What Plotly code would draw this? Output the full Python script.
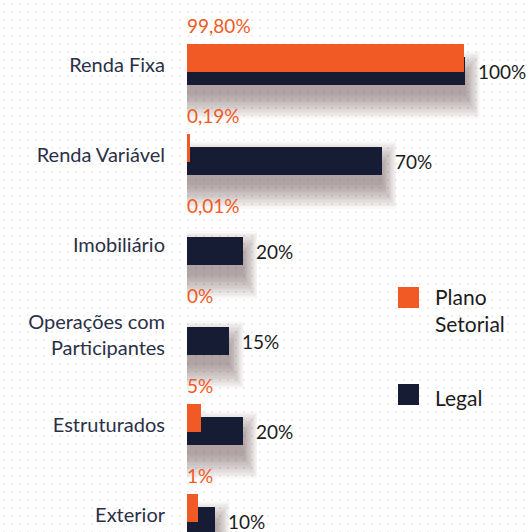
import base64
import plotly.graph_objects as go

# ---------------- data ----------------
categories = ["Renda Fixa", "Renda Variável", "Imobiliário",
              "Operações com<br>Participantes", "Estruturados", "Exterior"]
plano_values = [99.8, 1.0, 0.01, 0, 5, 4]          # bar lengths
plano_labels = ["99,80%", "0,19%", "0,01%", "0%", "5%", "1%"]
legal_values = [100, 70, 20, 15, 20, 10]
legal_labels = ["100%", "70%", "20%", "15%", "20%", "10%"]
series_names = ["Plano<br>Setorial", "Legal"]

# ---------------- style ----------------
ORANGE = "#F15A24"
NAVY = "#171C35"
LABEL_COLOR = "#2B3048"
TEXT_DARK = "#1C1C1C"
FONT = "Lato"

W, H = 531, 532
ML = 187
ROW_PX = 90.0
FIRST_ROW_PX = 64.5
PX_PER_PCT = 2.78
plot_w = W - ML
xmax = plot_w / PX_PER_PCT
n = len(categories)
idx = list(range(n))
y_top = -FIRST_ROW_PX / ROW_PX
y_bot = (H - FIRST_ROW_PX) / ROW_PX
bar_w = 28 / ROW_PX
shift = 6.5 / ROW_PX


def px_x(p):
    return (p - ML) / plot_w


def px_y(p):
    return 1 - p / H


fig = go.Figure()

# soft shadow under the navy bars (layered translucent bars)
for k in range(18):
    spread_px = 1 + 1.4 * k
    su = 0.6 * spread_px / PX_PER_PCT
    wv = max(bar_w - 10 / ROW_PX, 0.01) + 2 * spread_px / ROW_PX
    center = shift + 14 / ROW_PX
    fig.add_trace(go.Bar(
        y=idx, x=[v + su for v in legal_values], base=0,
        orientation="h", width=wv, offset=center - wv / 2,
        marker=dict(color="rgba(90,45,45,0.028)", line=dict(width=0)),
        hoverinfo="skip", showlegend=False))

fig.add_trace(go.Bar(
    y=idx, x=legal_values, orientation="h", name=series_names[1],
    width=bar_w, offset=shift - bar_w / 2,
    marker=dict(color=NAVY, line=dict(width=0)), showlegend=False))
fig.add_trace(go.Bar(
    y=idx, x=plano_values, orientation="h", name=series_names[0],
    width=bar_w, offset=-shift - bar_w / 2,
    marker=dict(color=ORANGE, line=dict(width=0)), showlegend=False))

annotations = []
for i in idx:
    annotations.append(dict(
        x=0, y=i, xref="x", yref="y", text=plano_labels[i], showarrow=False,
        xanchor="left", yanchor="middle", yshift=39, xshift=-2,
        font=dict(family=FONT, size=19, color=ORANGE)))
    annotations.append(dict(
        x=legal_values[i], y=i + shift, xref="x", yref="y", text=legal_labels[i],
        showarrow=False, xanchor="left", yanchor="middle", xshift=11,
        font=dict(family=FONT, size=19, color=TEXT_DARK)))

# manual legend
legend_colors = [ORANGE, NAVY]
legend_sq_top = [287, 384]
legend_text_mid = [310, 397]
shapes = []
for name, col, top, mid in zip(series_names, legend_colors, legend_sq_top, legend_text_mid):
    shapes.append(dict(type="rect", xref="paper", yref="paper",
                       x0=px_x(398), x1=px_x(419), y0=px_y(top), y1=px_y(top + 21),
                       fillcolor=col, line=dict(width=0)))
    annotations.append(dict(
        x=px_x(433), y=px_y(mid), xref="paper", yref="paper", text=name,
        showarrow=False, xanchor="left", yanchor="middle", align="left",
        font=dict(family=FONT, size=21, color=TEXT_DARK)))

# dotted background
svg = ('<svg xmlns="http://www.w3.org/2000/svg" width="%d" height="%d">'
       '<defs><pattern id="p" width="8" height="8" patternUnits="userSpaceOnUse">'
       '<rect x="3" y="3" width="2" height="2" fill="#F0F0F0"/></pattern></defs>'
       '<rect width="100%%" height="100%%" fill="url(#p)"/></svg>') % (W, H)
src = "data:image/svg+xml;base64," + base64.b64encode(svg.encode()).decode()

fig.update_layout(
    width=W, height=H,
    margin=dict(l=ML, r=0, t=0, b=0),
    paper_bgcolor="white", plot_bgcolor="rgba(0,0,0,0)",
    barmode="overlay", bargap=0,
    showlegend=False,
    font=dict(family=FONT),
    annotations=annotations, shapes=shapes,
    images=[dict(source=src, xref="paper", yref="paper",
                 x=px_x(0), y=1, sizex=W / plot_w, sizey=1,
                 xanchor="left", yanchor="top", sizing="stretch",
                 layer="below")],
    xaxis=dict(range=[0, xmax], visible=False, fixedrange=True),
    yaxis=dict(range=[y_bot, y_top], tickvals=idx, ticktext=categories,
               showgrid=False, zeroline=False, showline=False,
               ticks="outside", ticklen=17, tickcolor="rgba(0,0,0,0)",
               tickfont=dict(family=FONT, size=20, color=LABEL_COLOR),
               fixedrange=True),
)

fig.write_html("out.html",
               config={"displayModeBar": False, "staticPlot": True},
               post_script="document.body.style.margin='0';"
                           "document.body.style.overflow='hidden';")
